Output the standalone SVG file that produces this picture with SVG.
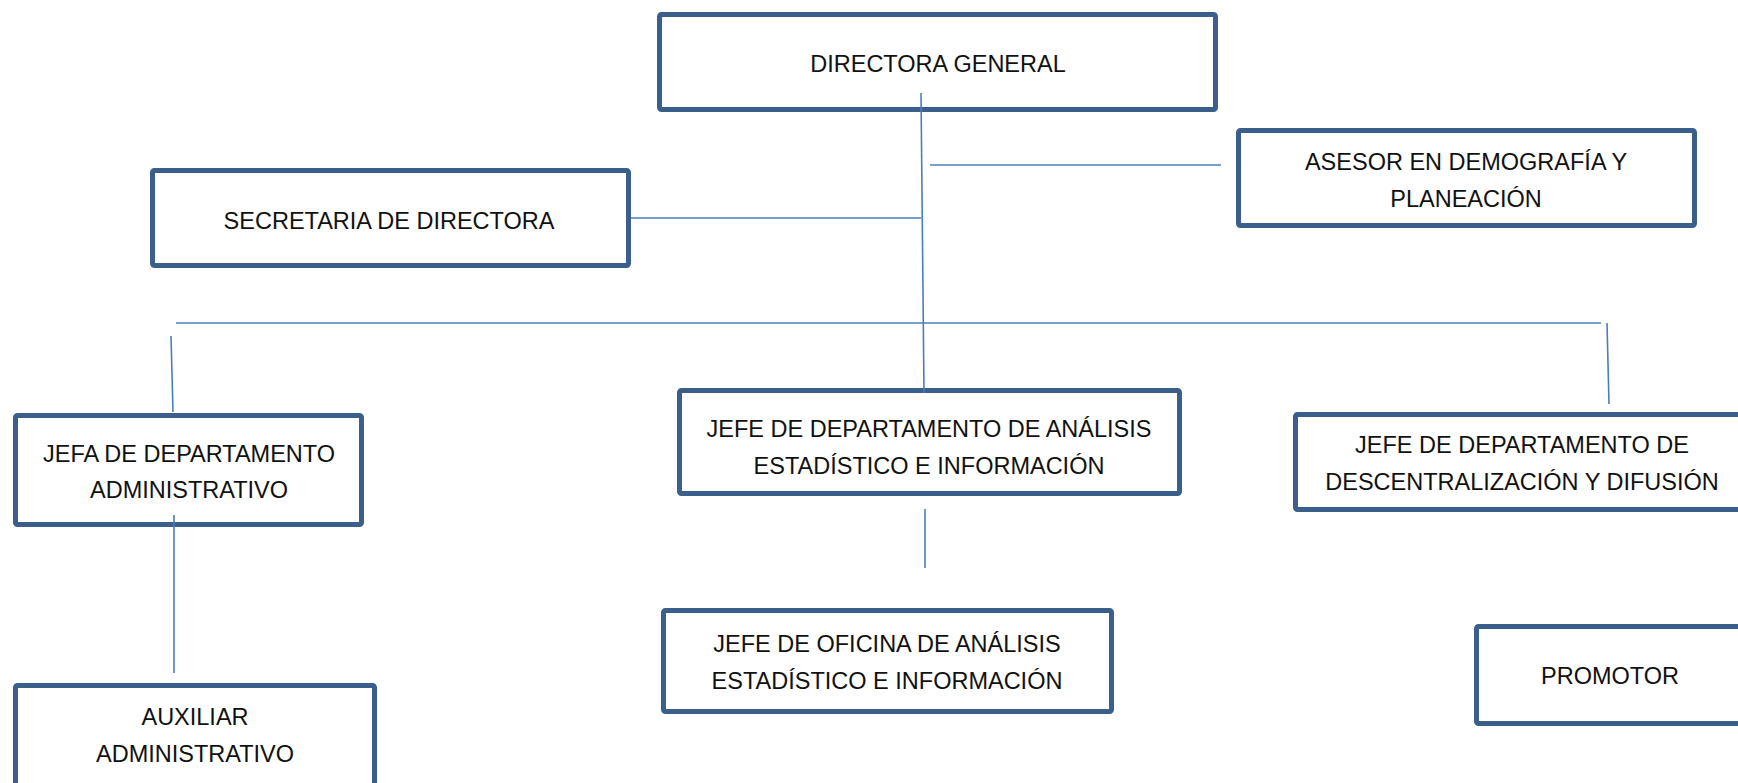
<svg xmlns="http://www.w3.org/2000/svg" width="1738" height="783" viewBox="0 0 1738 783">
<style>
.box{fill:#fff;stroke:#3A5F8B;stroke-width:5;}
.lbl{font-family:"Liberation Sans",Arial,sans-serif;font-size:23.5px;fill:#111;text-anchor:middle;}
.con{stroke:#4A7EBB;stroke-width:1.6;fill:none;}
</style>
<rect x="0" y="0" width="1738" height="783" fill="#fff"/>
<g id="n-director"><rect class="box" x="659.5" y="14.5" width="556" height="95" rx="2"/><text class="lbl" x="938" y="72">DIRECTORA GENERAL</text></g>
<g id="n-secretaria"><rect class="box" x="152.5" y="170.5" width="476" height="95" rx="2"/><text class="lbl" x="389" y="229">SECRETARIA DE DIRECTORA</text></g>
<g id="n-asesor"><rect class="box" x="1238.5" y="130.5" width="456" height="95" rx="2"/><text class="lbl" x="1466" y="170">ASESOR EN DEMOGRAFÍA Y</text><text class="lbl" x="1466" y="207">PLANEACIÓN</text></g>
<g id="n-jefa-admin"><rect class="box" x="15.5" y="415.5" width="346" height="109" rx="2"/><text class="lbl" x="189" y="462">JEFA DE DEPARTAMENTO</text><text class="lbl" x="189" y="498">ADMINISTRATIVO</text></g>
<g id="n-jefe-analisis"><rect class="box" x="679.5" y="390.5" width="500" height="103" rx="2"/><text class="lbl" x="929" y="437">JEFE DE DEPARTAMENTO DE ANÁLISIS</text><text class="lbl" x="929" y="474">ESTADÍSTICO E INFORMACIÓN</text></g>
<g id="n-jefe-descentralizacion"><rect class="box" x="1295.5" y="414.5" width="500" height="95" rx="2"/><text class="lbl" x="1522" y="453">JEFE DE DEPARTAMENTO DE</text><text class="lbl" x="1522" y="490">DESCENTRALIZACIÓN Y DIFUSIÓN</text></g>
<g id="n-auxiliar"><rect class="box" x="15.5" y="685.5" width="359" height="110" rx="2"/><text class="lbl" x="195" y="725">AUXILIAR</text><text class="lbl" x="195" y="762">ADMINISTRATIVO</text></g>
<g id="n-jefe-oficina"><rect class="box" x="663.5" y="610.5" width="448" height="101" rx="2"/><text class="lbl" x="887" y="652">JEFE DE OFICINA DE ANÁLISIS</text><text class="lbl" x="887" y="689">ESTADÍSTICO E INFORMACIÓN</text></g>
<g id="n-promotor"><rect class="box" x="1476.5" y="626.5" width="300" height="97" rx="2"/><text class="lbl" x="1610" y="684">PROMOTOR</text></g>
<g id="connectors">
<line class="con" x1="921" y1="93" x2="924" y2="393"/>
<line class="con" x1="930" y1="165" x2="1221" y2="165"/>
<line class="con" x1="631" y1="218" x2="921" y2="218"/>
<line class="con" x1="176" y1="323" x2="1601" y2="323"/>
<line class="con" x1="171" y1="336" x2="173" y2="412"/>
<line class="con" x1="1607" y1="323" x2="1609" y2="404"/>
<line class="con" x1="925" y1="509" x2="925" y2="568"/>
<line class="con" x1="174" y1="515" x2="174" y2="673"/>
</g>
</svg>
